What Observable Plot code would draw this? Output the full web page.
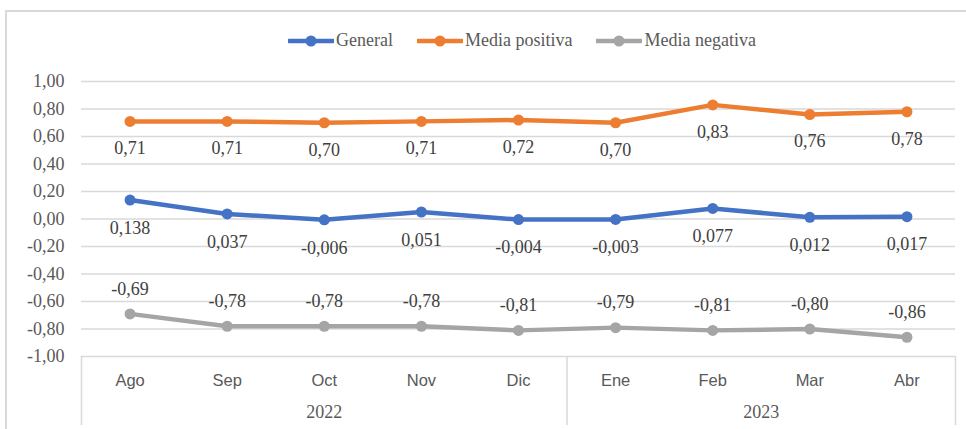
<!DOCTYPE html>
<html>
<head>
<meta charset="utf-8">
<script src="https://cdn.jsdelivr.net/npm/d3@7"></script>
<script src="https://cdn.jsdelivr.net/npm/@observablehq/plot@0.6"></script>
<style>
  html, body { margin: 0; padding: 0; background: #fff; }
  #wrap { position: relative; width: 966px; height: 429px; overflow: hidden; }
  #frame { position: absolute; left: 5px; top: 10px; width: 980px; height: 440px; border: 2px solid #d9d9d9; box-sizing: border-box; }
  #chart { position: absolute; left: 0; top: 0; }
  #legend { position: absolute; left: 288px; top: 30px; display: flex; align-items: center; gap: 24px;
            font-family: "Liberation Serif", "Times New Roman", serif; font-size: 18px; color: #595959; }
  .item { display: flex; align-items: center; }
  .item svg { display: block; margin-right: 2px; }
</style>
</head>
<body>
<div id="wrap">
  <div id="frame"></div>
  <div id="chart"></div>
  <div id="legend"></div>
</div>
<script>
const months = ["Ago", "Sep", "Oct", "Nov", "Dic", "Ene", "Feb", "Mar", "Abr"];
const years = ["2022", "2023"];
const yearStart = [0, 5];
const yearEnd = [4, 8];
const seriesNames = ["General", "Media positiva", "Media negativa"];
const seriesColors = ["#4472C4", "#ED7D31", "#A5A5A5"];
const general = [0.138, 0.037, -0.006, 0.051, -0.004, -0.003, 0.077, 0.012, 0.017];
const positiva = [0.71, 0.71, 0.70, 0.71, 0.72, 0.70, 0.83, 0.76, 0.78];
const negativa = [-0.69, -0.78, -0.78, -0.78, -0.81, -0.79, -0.81, -0.80, -0.86];
const yTicks = [-1, -0.8, -0.6, -0.4, -0.2, 0, 0.2, 0.4, 0.6, 0.8, 1];

const decimals = {"General": 3, "Media positiva": 2, "Media negativa": 2};
const labelDy = {"General": 28, "Media positiva": 27, "Media negativa": -25};
const comma = (v, d) => v.toFixed(d).replace(".", ",");

const data = [];
[[seriesNames[0], general], [seriesNames[1], positiva], [seriesNames[2], negativa]].forEach(([s, arr]) => {
  arr.forEach((v, i) => data.push({series: s, i, v}));
});
const yearData = years.map((y, k) => ({year: y, x: (yearStart[k] + yearEnd[k]) / 2}));
const separators = [-0.5, yearEnd[0] + 0.5, months.length - 0.5];

const serif = "Liberation Serif, Times New Roman, serif";
const sans = "Liberation Sans, Arial, sans-serif";

const marks = [
  Plot.ruleY(yTicks.filter(d => d > -1), {y: d => d, stroke: "#d9d9d9", strokeWidth: 1.5}),
  Plot.ruleY([-1], {y: d => d, stroke: "#d9d9d9", strokeWidth: 1.5}),
  Plot.ruleX(separators, {x: d => d, stroke: "#d9d9d9", strokeWidth: 1.5, insetTop: 275, insetBottom: -69}),
  Plot.axisY({ticks: yTicks, tickSize: 0, tickPadding: 17, tickFormat: d => comma(d, 2), label: null,
              fontSize: 18, fontFamily: serif, fill: "#595959"}),
  Plot.axisX({ticks: d3.range(months.length), tickSize: 0, tickPadding: 18, tickFormat: i => months[i], label: null,
              fontSize: 16.5, fontFamily: sans, fill: "#595959"}),
  Plot.text(yearData, {x: "x", y: () => -1, text: "year", dy: 56, fontSize: 18, fontFamily: serif, fill: "#595959"})
];
seriesNames.forEach(s => {
  const sub = data.filter(d => d.series === s);
  marks.push(Plot.line(sub, {x: "i", y: "v", stroke: "series", strokeWidth: 4.5}));
  marks.push(Plot.dot(sub, {x: "i", y: "v", fill: "series", r: 5.5}));
  marks.push(Plot.text(sub, {x: "i", y: "v", text: d => comma(d.v, decimals[s]), dy: labelDy[s],
                             fontSize: 18, fontFamily: serif, fill: "#404040"}));
});

const chart = Plot.plot({
  width: 966, height: 429,
  marginLeft: 81, marginRight: 11, marginTop: 81, marginBottom: 73,
  x: {domain: [-0.5, months.length - 0.5], axis: null, label: null},
  y: {domain: [-1, 1], axis: null, label: null},
  color: {domain: seriesNames, range: seriesColors},
  style: {background: "transparent", overflow: "visible"},
  marks
});
document.getElementById("chart").appendChild(chart);

const legend = document.getElementById("legend");
seriesNames.forEach((s, k) => {
  const item = document.createElement("div");
  item.className = "item";
  item.innerHTML = `<svg width="46" height="14"><line x1="1" y1="7" x2="45" y2="7" stroke="${seriesColors[k]}" stroke-width="4.5" stroke-linecap="round"/><circle cx="23" cy="7" r="5.5" fill="${seriesColors[k]}"/></svg><span>${s}</span>`;
  legend.appendChild(item);
});
</script>
</body>
</html>
